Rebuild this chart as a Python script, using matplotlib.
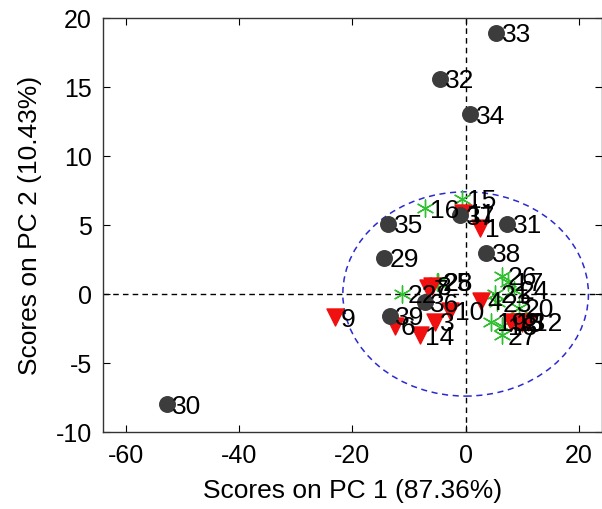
import matplotlib
matplotlib.use("Agg")
import matplotlib.pyplot as plt
from matplotlib.patches import Ellipse
import numpy as np

plt.rcParams['font.family'] = ['Liberation Sans', 'DejaVu Sans']
plt.rcParams['axes.unicode_minus'] = False

# Group 1: red down-triangles (samples 1-14)
red_labels = ["1", "2", "3", "4", "5", "6", "7", "8", "9", "10", "11", "12", "13", "14"]
red_x = [2.5, 9.5, -5.5, 2.8, 10.0, -12.5, -6.6, -6.0, -23.1, -2.8, -0.5, 11.0, 8.0, -8.1]
red_y = [4.8, -2.0, -2.0, -0.5, -2.1, -2.3, 0.4, 0.6, -1.7, -1.2, 5.9, -2.0, -2.0, -3.0]

# Group 2: green asterisks (samples 15-28)
green_labels = ["15", "16", "17", "18", "19", "20", "21", "22", "23", "24", "25", "26", "27", "28"]
green_x = [-0.7, -7.2, 7.5, 6.5, 4.5, 9.5, 5.2, -11.3, 5.5, 8.5, -5.0, 6.4, 6.5, -4.9]
green_y = [6.9, 6.2, 0.9, -2.3, -2.0, -1.0, 0.0, 0.0, -0.6, 0.3, 0.9, 1.3, -3.0, 0.9]

# Group 3: dark grey circles (samples 29-39)
grey_labels = ["29", "30", "31", "32", "33", "34", "35", "36", "37", "38", "39"]
grey_x = [-14.4, -52.8, 7.3, -4.6, 5.4, 0.8, -13.7, -7.2, -1.0, 3.6, -13.4]
grey_y = [2.6, -8.0, 5.1, 15.6, 18.9, 13.0, 5.1, -0.6, 5.7, 3.0, -1.6]

# 95% confidence ellipse (centre and semi-axes, in score units)
ell_center = (0.0, 0.0)
ell_semi_x = 21.7
ell_semi_y = 7.4

xticks = [-60, -40, -20, 0, 20]
yticks = [-10, -5, 0, 5, 10, 15, 20]

fig = plt.figure(figsize=(6.02, 5.10), dpi=100)
ax = fig.add_axes([0.171, 0.151, 0.829, 0.812])

ax.axhline(0, color='black', ls=(0, (4, 3)), lw=1.0, zorder=1)
ax.axvline(0, color='black', ls=(0, (4, 3)), lw=1.0, zorder=1)

ax.add_patch(Ellipse(ell_center, 2 * ell_semi_x, 2 * ell_semi_y, fill=False,
                     edgecolor='#2a2ad0', ls=(0, (4, 3)), lw=1.1, zorder=2))

ax.scatter(green_x, green_y, marker=(6, 2, 0), s=150, color='#2fbf2f', lw=1.0, zorder=3)
ax.scatter(red_x, red_y, marker='v', s=150, color='#f01010', edgecolors='#f01010', zorder=4)
ax.scatter(grey_x, grey_y, marker='o', s=125, color='#3c3c3c', zorder=5)

for labs, xs, ys in [(green_labels, green_x, green_y), (red_labels, red_x, red_y),
                     (grey_labels, grey_x, grey_y)]:
    for t, x, y in zip(labs, xs, ys):
        ax.annotate(t, (x, y), xytext=(4, -1), textcoords='offset points',
                    va='center', ha='left', fontsize=19, color='black', zorder=6)

ax.set_xlim(-64.1, 24.1)
ax.set_ylim(-10, 20)
ax.set_xticks(xticks)
ax.set_yticks(yticks)
ax.tick_params(direction='in', length=5, labelsize=18, top=True, right=True, pad=8)
for s in ax.spines.values():
    s.set_color('#333333')
    s.set_linewidth(1.0)

ax.set_xlabel('Scores on PC 1 (87.36%)', fontsize=19, labelpad=8)
ax.set_ylabel('Scores on PC 2 (10.43%)', fontsize=19, labelpad=10)

fig.savefig('out.png', dpi=100)
